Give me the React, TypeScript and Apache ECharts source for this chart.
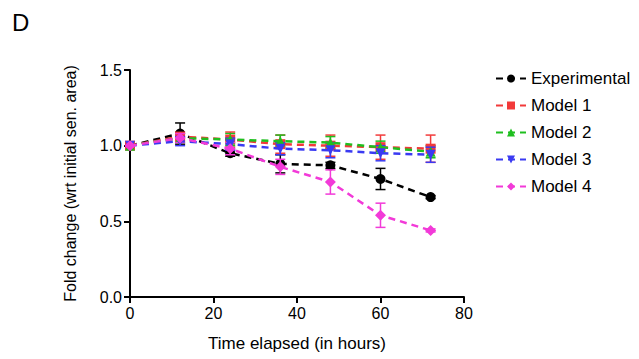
import React, { useEffect, useRef } from "react";
import * as echarts from "echarts";

const times = [0, 12, 24, 36, 48, 60, 72];
const seriesNames = ["Experimental", "Model 1", "Model 2", "Model 3", "Model 4"];
const experimental = [1.0, 1.08, 0.95, 0.88, 0.87, 0.78, 0.66];
const experimentalErr = [0.0, 0.07, 0.02, 0.06, 0.02, 0.07, 0.01];
const model1 = [1.0, 1.06, 1.04, 1.01, 1.0, 0.99, 0.98];
const model1Err = [0.0, 0.03, 0.05, 0.06, 0.07, 0.08, 0.09];
const model2 = [1.0, 1.05, 1.04, 1.03, 1.02, 0.99, 0.96];
const model2Err = [0.0, 0.03, 0.04, 0.04, 0.04, 0.04, 0.04];
const model3 = [1.0, 1.03, 1.01, 0.98, 0.97, 0.95, 0.94];
const model3Err = [0.0, 0.03, 0.04, 0.04, 0.05, 0.05, 0.05];
const model4 = [1.0, 1.05, 0.98, 0.86, 0.76, 0.54, 0.44];
const model4Err = [0.0, 0.03, 0.04, 0.05, 0.08, 0.08, 0.01];
const yTicks = [0, 0.5, 1.0, 1.5];

const colors = ["#000000", "#f23a3a", "#1fbf1f", "#3a3af2", "#f23ad8"];
const invTriangle = "path://M0,0 L10,0 L5,9 Z";
const symbols = ["circle", "rect", "triangle", invTriangle, "diamond"];
const symbolSizes = [10, 10, 10, 10, 11];

export default function App() {
  const ref = useRef<HTMLDivElement>(null);
  useEffect(() => {
    if (!ref.current) return;
    const chart = echarts.init(ref.current, null, { renderer: "svg" });
    const values = [experimental, model1, model2, model3, model4];
    const errs = [experimentalErr, model1Err, model2Err, model3Err, model4Err];
    const font = "Liberation Sans, Arial, sans-serif";

    const lineSeries = values.map((vals, i) => ({
      name: seriesNames[i],
      type: "line",
      data: times.map((t, j) => [t, vals[j]]),
      symbol: symbols[i],
      symbolSize: symbolSizes[i],
      color: colors[i],
      lineStyle: { type: [7, 5], width: 2.5, color: colors[i] },
      itemStyle: { color: colors[i] },
      z: 3 + i,
    }));
    const errSeries = values.map((vals, i) => ({
      name: seriesNames[i] + " err",
      type: "custom",
      data: times.map((t, j) => [t, vals[j] - errs[i][j], vals[j] + errs[i][j]]),
      renderItem: (params: any, api: any) => {
        const x = api.value(0);
        const lo = api.coord([x, api.value(1)]);
        const hi = api.coord([x, api.value(2)]);
        const w = 5;
        const style = { stroke: colors[i], lineWidth: 1.5 };
        return {
          type: "group",
          children: [
            { type: "line", shape: { x1: lo[0], y1: lo[1], x2: hi[0], y2: hi[1] }, style },
            { type: "line", shape: { x1: lo[0] - w, y1: lo[1], x2: lo[0] + w, y2: lo[1] }, style },
            { type: "line", shape: { x1: hi[0] - w, y1: hi[1], x2: hi[0] + w, y2: hi[1] }, style },
          ],
        };
      },
      z: 2 + i,
      silent: true,
    }));

    chart.setOption({
      animation: false,
      backgroundColor: "#ffffff",
      textStyle: { fontFamily: font },
      graphic: [
        { type: "text", left: 12, top: 10, style: { text: "D", font: "24px " + font, fill: "#000" } },
      ],
      grid: { left: 130, right: 175, top: 70, bottom: 62, containLabel: false },
      legend: {
        data: seriesNames,
        orient: "vertical",
        left: 490,
        top: 65,
        itemGap: 10,
        itemWidth: 30,
        itemHeight: 10,
        textStyle: { fontSize: 17, color: "#000", fontFamily: font },
      },
      xAxis: {
        type: "value",
        min: 0,
        max: 80,
        interval: 20,
        name: "Time elapsed (in hours)",
        nameLocation: "middle",
        nameGap: 38,
        nameTextStyle: { fontSize: 17, color: "#000" },
        axisLine: { lineStyle: { color: "#000", width: 2 } },
        axisTick: { show: true, length: 6, lineStyle: { color: "#000", width: 2 } },
        axisLabel: { fontSize: 16, color: "#000", margin: 8 },
        splitLine: { show: false },
      },
      yAxis: {
        type: "value",
        min: 0,
        max: 1.5,
        interval: 0.5,
        name: "Fold change (wrt initial sen. area)",
        nameLocation: "middle",
        nameGap: 52,
        nameTextStyle: { fontSize: 16, color: "#000" },
        axisLine: { show: true, lineStyle: { color: "#000", width: 2 } },
        axisTick: { show: true, length: 6, lineStyle: { color: "#000", width: 2 } },
        axisLabel: {
          fontSize: 16,
          color: "#000",
          margin: 8,
          formatter: (v: number) => (yTicks.includes(v) ? v.toFixed(1) : ""),
        },
        splitLine: { show: false },
      },
      series: [...errSeries, ...lineSeries],
    });
    return () => chart.dispose();
  }, []);
  return <div ref={ref} style={{ width: 639, height: 359, position: "absolute", left: 0, top: 0 }} />;
}
